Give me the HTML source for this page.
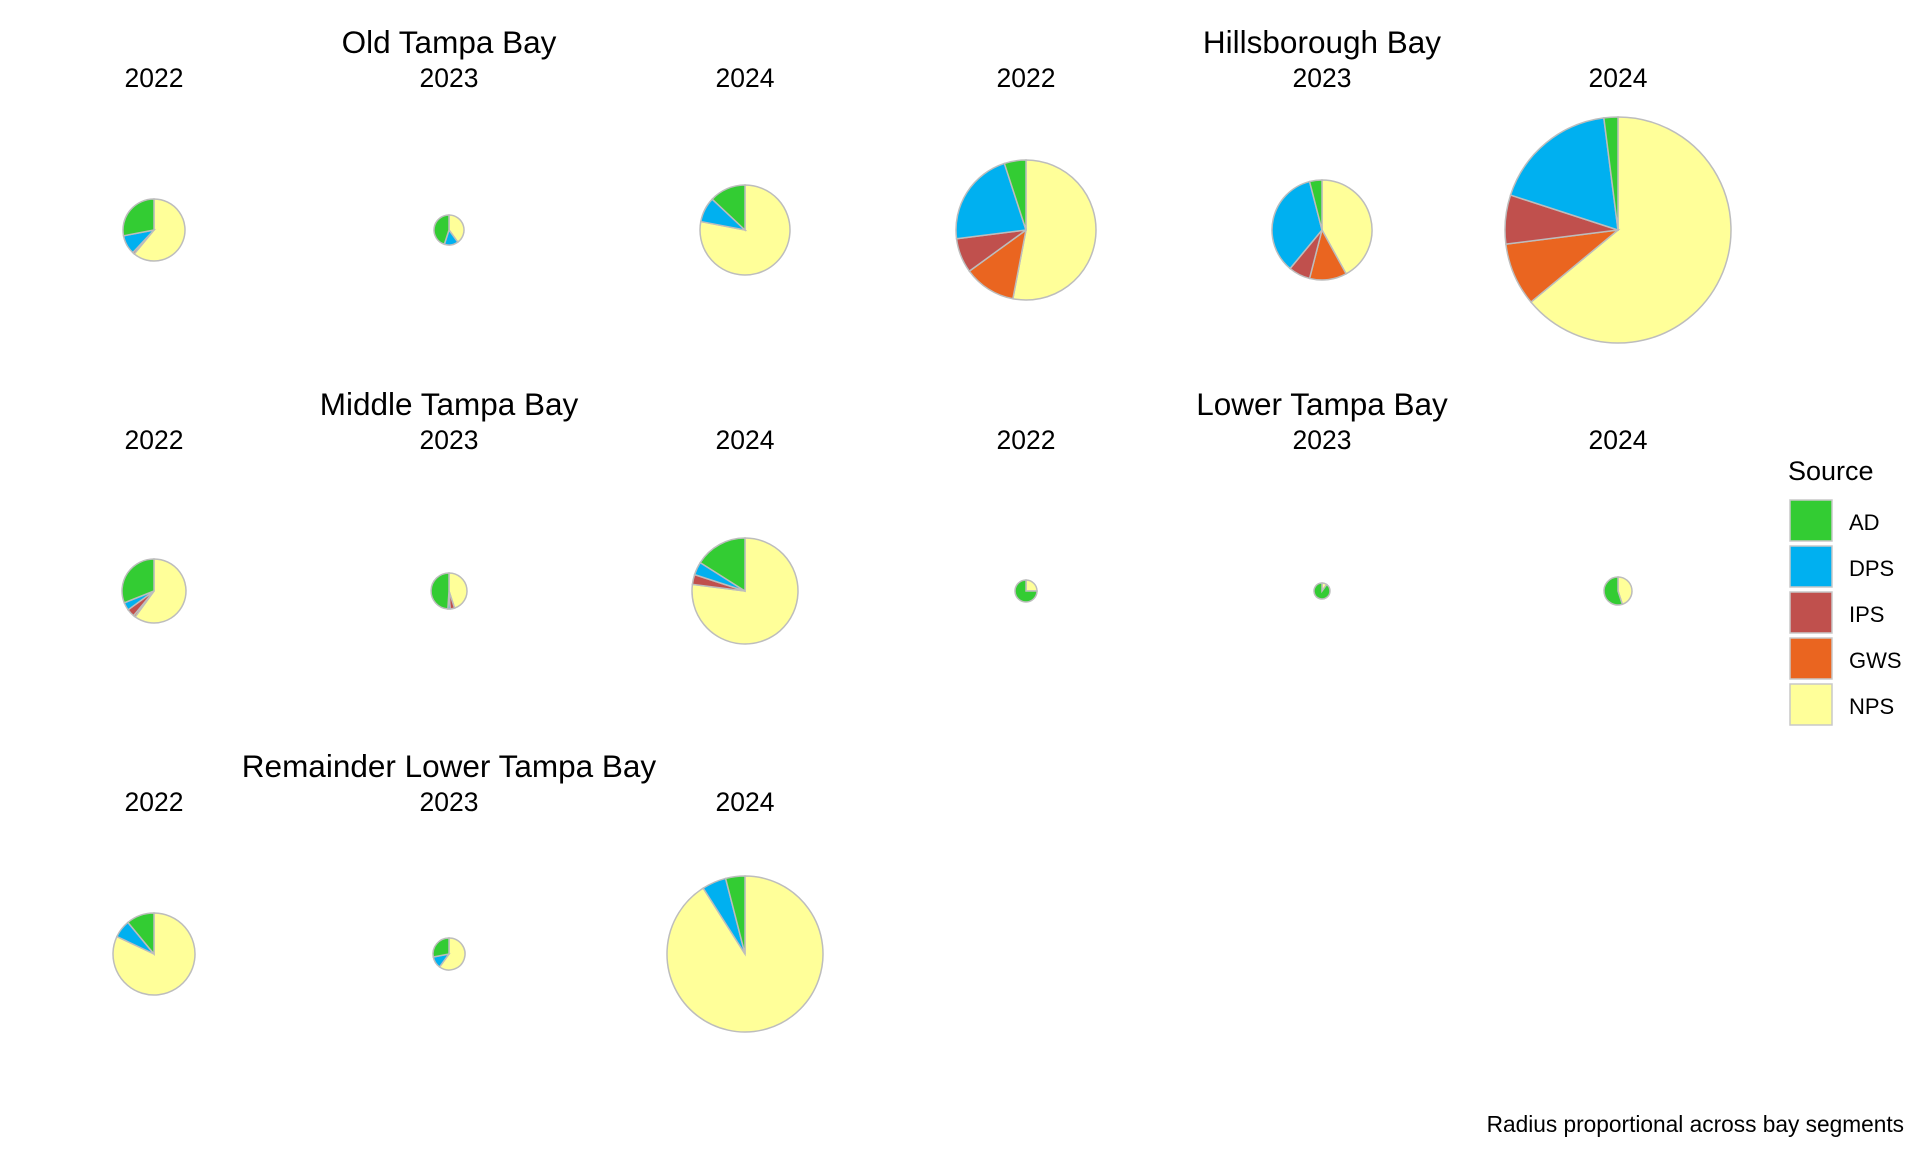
<!DOCTYPE html>
<html><head><meta charset="utf-8"><style>
html,body{margin:0;padding:0;background:#fff;}
svg{display:block;font-family:"Liberation Sans",Arial,sans-serif;}
</style></head><body>
<svg id="s" width="1920" height="1152" viewBox="0 0 1920 1152" xmlns="http://www.w3.org/2000/svg">
<g font-size="31.5" text-anchor="middle" fill="#000">
<text x="449" y="53">Old Tampa Bay</text>
<text x="1322" y="53">Hillsborough Bay</text>
<text x="449" y="415">Middle Tampa Bay</text>
<text x="1322" y="415">Lower Tampa Bay</text>
<text x="449" y="777">Remainder Lower Tampa Bay</text>
</g>
<g font-size="26.5" text-anchor="middle" fill="#000">
<text x="154" y="87">2022</text><text x="449" y="87">2023</text><text x="745" y="87">2024</text>
<text x="1026" y="87">2022</text><text x="1322" y="87">2023</text><text x="1618" y="87">2024</text>
<text x="154" y="449">2022</text><text x="449" y="449">2023</text><text x="745" y="449">2024</text>
<text x="1026" y="449">2022</text><text x="1322" y="449">2023</text><text x="1618" y="449">2024</text>
<text x="154" y="811">2022</text><text x="449" y="811">2023</text><text x="745" y="811">2024</text>
</g>
<g id="pies"></g>
<text x="1788" y="480" font-size="27">Source</text>
<g stroke="#c8c8c8" stroke-width="1.5">
<rect x="1790" y="500" width="42" height="41" fill="#33cc33"/>
<rect x="1790" y="546" width="42" height="41" fill="#00b0f0"/>
<rect x="1790" y="592" width="42" height="41" fill="#c0504d"/>
<rect x="1790" y="638" width="42" height="41" fill="#ea6520"/>
<rect x="1790" y="684" width="42" height="41" fill="#ffff99"/>
</g>
<g font-size="22" fill="#000">
<text x="1849" y="530">AD</text>
<text x="1849" y="576">DPS</text>
<text x="1849" y="622">IPS</text>
<text x="1849" y="668">GWS</text>
<text x="1849" y="714">NPS</text>
</g>
<text x="1904" y="1132" font-size="22.7" text-anchor="end">Radius proportional across bay segments</text>
</svg>
<script>
var C=["#ffff99","#ea6520","#c0504d","#00b0f0","#33cc33"];
var P=[
[154,230,31,[.61,0,.01,.10,.28]],
[449,230,15,[.40,0,0,.15,.45]],
[745,230,45,[.78,0,0,.09,.13]],
[1026,230,70,[.53,.12,.08,.22,.05]],
[1322,230,50,[.42,.12,.07,.35,.04]],
[1618,230,113,[.64,.09,.07,.18,.02]],
[154,591,32,[.60,.01,.04,.04,.31]],
[449,591,18,[.45,0,.04,.02,.49]],
[745,591,53,[.77,0,.03,.04,.16]],
[1026,591,11,[.25,0,0,0,.75]],
[1322,591,8,[.10,0,0,0,.90]],
[1618,591,14,[.45,0,0,0,.55]],
[154,954,41,[.82,0,0,.07,.11]],
[449,954,16,[.60,0,0,.12,.28]],
[745,954,78,[.91,0,0,.05,.04]]
];
var g=document.getElementById("pies"),h="";
P.forEach(function(p){
 var cx=p[0],cy=p[1],r=p[2],a=0;
 p[3].forEach(function(f,i){
  if(f<=0)return;
  var a1=a+f*2*Math.PI;
  var x0=cx+r*Math.sin(a),y0=cy-r*Math.cos(a),x1=cx+r*Math.sin(a1),y1=cy-r*Math.cos(a1);
  var L=(a1-a)>Math.PI?1:0;
  h+='<path d="M'+cx+','+cy+'L'+x0.toFixed(2)+','+y0.toFixed(2)+'A'+r+','+r+' 0 '+L+' 1 '+x1.toFixed(2)+','+y1.toFixed(2)+'Z" fill="'+C[i]+'" stroke="#bdbdbd" stroke-width="1.5"/>';
  a=a1;
 });
});
g.innerHTML=h;
</script>
</body></html>
